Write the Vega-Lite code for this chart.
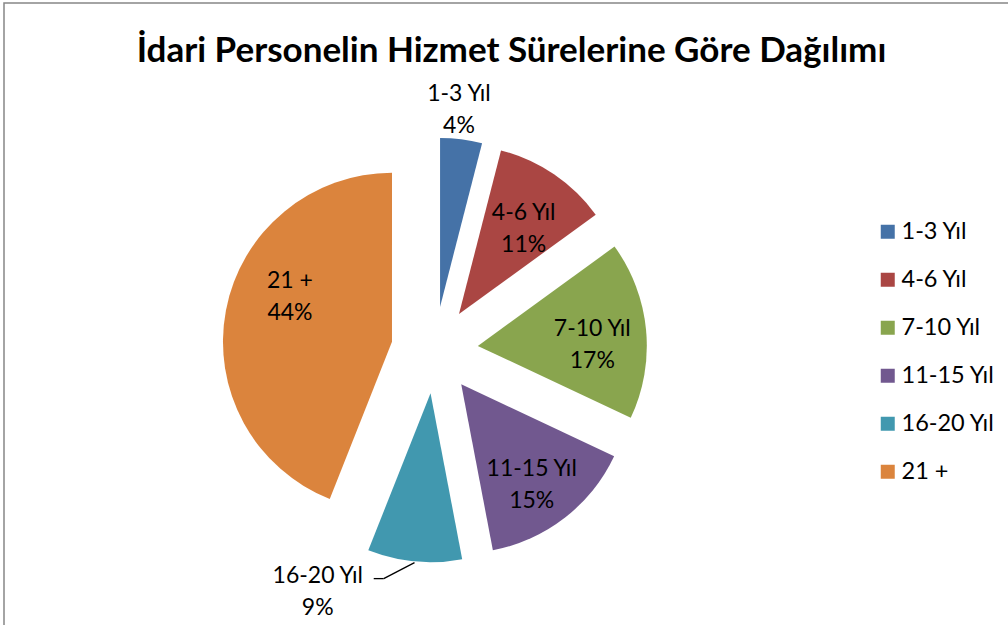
{
  "$schema": "https://vega.github.io/schema/vega-lite/v6.json",
  "width": 1008,
  "height": 625,
  "autosize": {"type": "fit", "contains": "padding"},
  "padding": {"left": 4, "top": 3, "right": -3, "bottom": -3},
  "background": "white",
  "config": {
    "view": {"stroke": "#868686", "strokeWidth": 1.5},
    "font": "Lato"
  },
  "title": {
    "text": "İdari Personelin Hizmet Sürelerine Göre Dağılımı",
    "font": "Lato",
    "fontSize": 35,
    "fontWeight": "bold",
    "color": "#000000",
    "anchor": "middle",
    "frame": "group",
    "baseline": "alphabetic",
    "offset": -94,
    "dx": 4
  },
  "data": {
    "values": [
      {"category": "1-3 Yıl", "value": 4},
      {"category": "4-6 Yıl", "value": 11},
      {"category": "7-10 Yıl", "value": 17},
      {"category": "11-15 Yıl", "value": 15},
      {"category": "16-20 Yıl", "value": 9},
      {"category": "21 +", "value": 44}
    ]
  },
  "transform": [
    {"window": [{"op": "sum", "field": "value", "as": "cum"}], "frame": [null, 0]},
    {"joinaggregate": [{"op": "sum", "field": "value", "as": "total"}]},
    {"calculate": "(datum.cum - datum.value) / datum.total", "as": "s0"},
    {"calculate": "datum.cum / datum.total", "as": "s1"},
    {"calculate": "(datum.s0 + datum.s1) / 2", "as": "sm"},
    {"calculate": "sin(2 * PI * datum.sm)", "as": "ex"},
    {"calculate": "cos(2 * PI * datum.sm)", "as": "ey"},
    {"calculate": "[datum.category, datum.value + '%']", "as": "label"}
  ],
  "encoding": {
    "x": {"field": "ex", "type": "quantitative", "axis": null, "scale": {"domain": [-9.922, 13.281], "nice": false, "zero": false}},
    "y": {"field": "ey", "type": "quantitative", "axis": null, "scale": {"domain": [-6.406, 7.995], "nice": false, "zero": false}}
  },
  "layer": [
    {
      "mark": {"type": "arc", "radius": 169},
      "encoding": {
        "theta": {"field": "s0", "type": "quantitative", "stack": null, "scale": {"domain": [0, 1]}},
        "theta2": {"field": "s1"},
        "color": {
          "field": "category",
          "type": "nominal",
          "sort": null,
          "scale": {
            "domain": ["1-3 Yıl", "4-6 Yıl", "7-10 Yıl", "11-15 Yıl", "16-20 Yıl", "21 +"],
            "range": ["#4572A7", "#AA4643", "#89A54E", "#71588F", "#4198AF", "#DB843D"]
          },
          "legend": {
            "title": null,
            "orient": "none",
            "legendX": 872,
            "legendY": 217,
            "symbolType": "square",
            "symbolSize": 196,
            "symbolStrokeWidth": 0,
            "labelFont": "Lato",
            "labelFontSize": 23.5,
            "labelColor": "#000000",
            "labelOffset": 2,
            "rowPadding": 23,
            "labelLimit": 200
          }
        }
      }
    },
    {
      "transform": [
        {"filter": {"field": "category", "equal": "16-20 Yıl"}},
        {"calculate": "datum.ex + 3.92 * sin(2 * PI * datum.sm)", "as": "ax"},
        {"calculate": "datum.ey + 3.92 * cos(2 * PI * datum.sm)", "as": "ay"},
        {"calculate": "datum.ax - 0.71", "as": "bx"},
        {"calculate": "datum.ay - 0.37", "as": "by"},
        {"calculate": "datum.bx - 0.23", "as": "cx"}
      ],
      "layer": [
        {
          "mark": {"type": "rule", "color": "#000000", "strokeWidth": 1.3},
          "encoding": {
            "x": {"field": "ax", "type": "quantitative"},
            "y": {"field": "ay", "type": "quantitative"},
            "x2": {"field": "bx"},
            "y2": {"field": "by"}
          }
        },
        {
          "mark": {"type": "rule", "color": "#000000", "strokeWidth": 1.3},
          "encoding": {
            "x": {"field": "bx", "type": "quantitative"},
            "y": {"field": "by", "type": "quantitative"},
            "x2": {"field": "cx"},
            "y2": {"field": "by"}
          }
        }
      ]
    },
    {
      "transform": [{"filter": {"field": "category", "oneOf": ["4-6 Yıl", "7-10 Yıl", "11-15 Yıl"]}}],
      "mark": {"type": "text", "radius": 115, "dy": -6, "fontSize": 23, "lineHeight": 32, "baseline": "middle", "align": "center", "color": "#000000"},
      "encoding": {
        "theta": {"field": "sm", "type": "quantitative", "stack": null},
        "text": {"field": "label"}
      }
    },
    {
      "transform": [{"filter": {"field": "category", "equal": "21 +"}}],
      "mark": {"type": "text", "radius": 112, "dx": 8, "dy": -40, "fontSize": 23, "lineHeight": 32, "baseline": "middle", "align": "center", "color": "#000000"},
      "encoding": {
        "theta": {"field": "sm", "type": "quantitative", "stack": null},
        "text": {"field": "label"}
      }
    },
    {
      "transform": [{"filter": {"field": "category", "equal": "1-3 Yıl"}}],
      "mark": {"type": "text", "radius": 199, "dx": -6, "dy": -15, "fontSize": 23, "lineHeight": 32, "baseline": "middle", "align": "center", "color": "#000000"},
      "encoding": {
        "theta": {"field": "sm", "type": "quantitative", "stack": null},
        "text": {"field": "label"}
      }
    },
    {
      "transform": [{"filter": {"field": "category", "equal": "16-20 Yıl"}}],
      "mark": {"type": "text", "radius": 200, "dx": -94, "dy": -16, "fontSize": 23, "lineHeight": 32, "baseline": "middle", "align": "center", "color": "#000000"},
      "encoding": {
        "theta": {"field": "sm", "type": "quantitative", "stack": null},
        "text": {"field": "label"}
      }
    }
  ]
}
